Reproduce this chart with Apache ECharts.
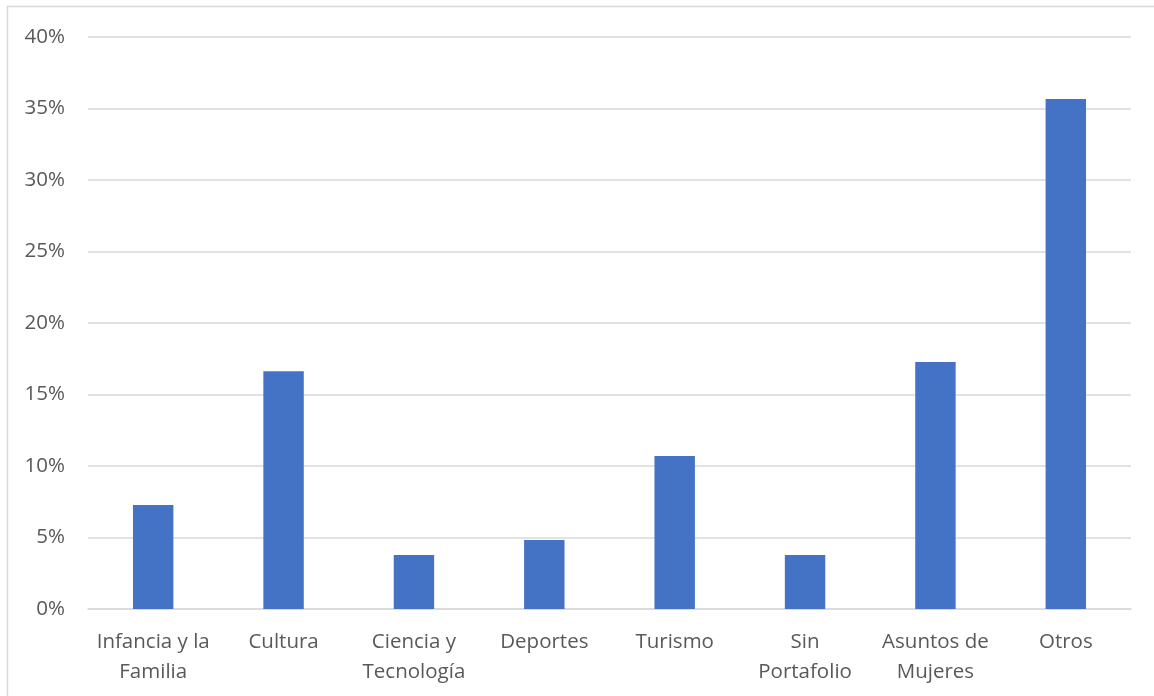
<!DOCTYPE html>
<html>
<head>
<meta charset="utf-8">
<script src="https://cdn.jsdelivr.net/npm/echarts@6/dist/echarts.min.js"></script>
<style>
  html, body { margin: 0; padding: 0; background: #ffffff; }
  #chart { width: 1154px; height: 696px; }
</style>
</head>
<body>
<div id="chart"></div>
<script>
// Categories and their wrapped tick labels
const categories = [
  'Infancia y la Familia', 'Cultura', 'Ciencia y Tecnología', 'Deportes',
  'Turismo', 'Sin Portafolio', 'Asuntos de Mujeres', 'Otros'
];
const tickLabels = [
  'Infancia y la\nFamilia', 'Cultura', 'Ciencia y\nTecnología', 'Deportes',
  'Turismo', 'Sin\nPortafolio', 'Asuntos de\nMujeres', 'Otros'
];
// Share per category, in percent
const shares = [7.27, 16.62, 3.78, 4.83, 10.7, 3.78, 17.27, 35.66];

const FONT = '"Open Sans", "Noto Sans", sans-serif';
const chart = echarts.init(document.getElementById('chart'), null, { renderer: 'canvas' });

chart.setOption({
  backgroundColor: '#ffffff',
  animation: false,
  graphic: [{
    type: 'rect',
    shape: { x: 7.5, y: 6.5, width: 1300, height: 900 },
    style: { fill: 'none', stroke: '#d9d9d9', lineWidth: 1.5 },
    silent: true
  }],
  grid: { left: 88, right: 23, top: 37, bottom: 87, containLabel: false },
  xAxis: {
    type: 'category',
    data: categories,
    axisLine: { show: true, lineStyle: { color: '#d9d9d9', width: 1.5 } },
    axisTick: { show: false },
    axisLabel: {
      color: '#595959',
      fontFamily: FONT,
      fontSize: 20.5,
      lineHeight: 30,
      margin: 18,
      interval: 0,
      formatter: (v, i) => tickLabels[i]
    }
  },
  yAxis: {
    type: 'value',
    min: 0,
    max: 40,
    interval: 5,
    axisLine: { show: false },
    axisTick: { show: false },
    splitLine: { lineStyle: { color: '#d9d9d9', width: 1.5 } },
    axisLabel: {
      color: '#595959',
      fontFamily: FONT,
      fontSize: 20.5,
      margin: 23,
      formatter: v => v + '%'
    }
  },
  series: [{
    type: 'bar',
    data: shares,
    barWidth: '31%',
    itemStyle: { color: '#4472c4' }
  }]
});
</script>
</body>
</html>
